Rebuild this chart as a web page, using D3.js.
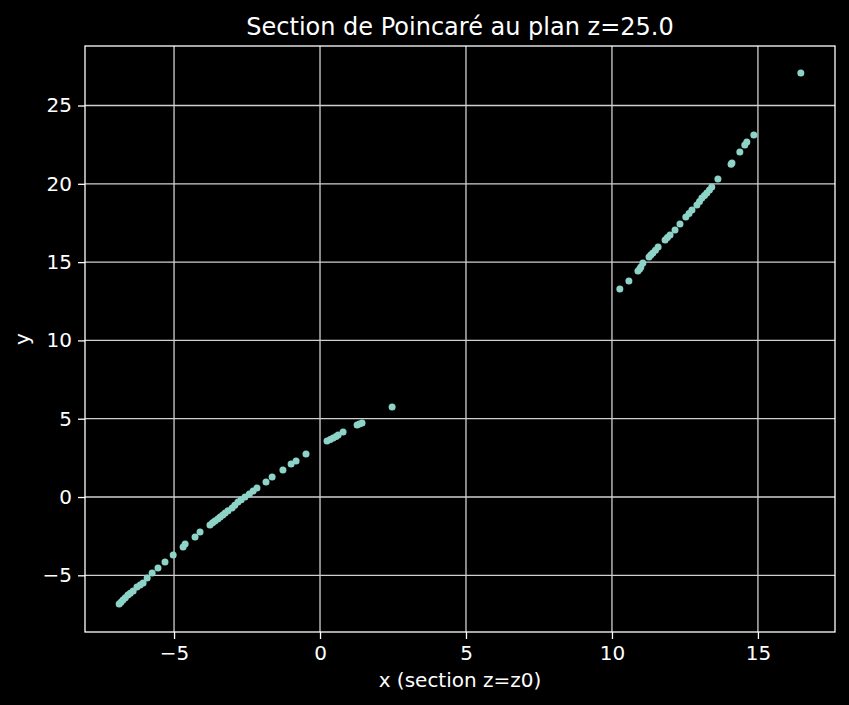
<!DOCTYPE html>
<html>
<head>
<meta charset="utf-8">
<script src="https://cdn.jsdelivr.net/npm/d3@7"></script>
<style>
  html, body { margin: 0; padding: 0; background: #000; }
  svg { display: block; }
  text { font-family: "DejaVu Sans", sans-serif; fill: #fff; }
</style>
</head>
<body>
<script>
// ---- data ----
const title = "Section de Poincaré au plan z=25.0";
const xLabel = "x (section z=z0)";
const yLabel = "y";

const xValues = [
  -6.88, -6.82, -6.75, -6.67, -6.58, -6.50, -6.40, -6.27, -6.16, -6.06, -5.92, -5.75,
  -5.55, -5.31, -5.03, -4.69, -4.62, -4.28, -4.11, -3.77, -3.68, -3.60, -3.50, -3.42,
  -3.33, -3.25, -3.15, -3.01, -2.92, -2.81, -2.70, -2.57, -2.42, -2.29, -2.16, -1.85,
  -1.64, -1.27, -0.99, -0.82, -0.48, 0.24, 0.35, 0.45, 0.55, 0.62, 0.79, 1.27, 1.35,
  1.44, 2.47,
  10.27, 10.58, 10.89, 10.95, 10.99, 11.06, 11.27, 11.33, 11.40, 11.49, 11.58, 11.82,
  11.90, 11.99, 12.16, 12.33, 12.53, 12.64, 12.74, 12.91, 13.00, 13.08, 13.17, 13.25,
  13.34, 13.42, 13.63, 14.08, 14.11, 14.38, 14.55, 14.62, 14.86, 16.47
];
const yValues = [
  -6.83, -6.72, -6.58, -6.43, -6.26, -6.14, -6.00, -5.75, -5.62, -5.49, -5.17, -4.85,
  -4.53, -4.15, -3.70, -3.19, -3.00, -2.55, -2.23, -1.79, -1.65, -1.53, -1.40, -1.28,
  -1.15, -1.02, -0.88, -0.70, -0.52, -0.32, -0.18, 0.00, 0.20, 0.38, 0.57, 0.96,
  1.28, 1.72, 2.11, 2.30, 2.75, 3.58, 3.68, 3.77, 3.87, 3.96, 4.15, 4.60, 4.67,
  4.73, 5.75,
  13.28, 13.79, 14.43, 14.56, 14.69, 14.94, 15.33, 15.45, 15.58, 15.76, 15.96, 16.41,
  16.57, 16.73, 17.05, 17.43, 17.88, 18.10, 18.33, 18.65, 18.87, 19.09, 19.25, 19.41,
  19.60, 19.80, 20.31, 21.25, 21.33, 22.03, 22.48, 22.67, 23.12, 27.08
];

const xTicks = [-5, 0, 5, 10, 15];
const yTicks = [-5, 0, 5, 10, 15, 20, 25];
const xDomain = [-8.05, 17.64];
const yDomain = [-8.62, 28.8];

// ---- layout ----
const W = 849, H = 705;
const m = { left: 85, right: 14, top: 46, bottom: 73 };
const iw = W - m.left - m.right, ih = H - m.top - m.bottom;

const svg = d3.select("body").append("svg").attr("width", W).attr("height", H);
svg.append("rect").attr("width", W).attr("height", H).attr("fill", "#000");

const x = d3.scaleLinear().domain(xDomain).range([0, iw]);
const y = d3.scaleLinear().domain(yDomain).range([ih, 0]);

const g = svg.append("g").attr("transform", `translate(${m.left},${m.top})`);

const fmt = d => (d < 0 ? "\u2212" + Math.abs(d) : String(d));

// grid
g.append("g").selectAll("line").data(xTicks).join("line")
  .attr("x1", d => x(d)).attr("x2", d => x(d)).attr("y1", 0).attr("y2", ih)
  .attr("stroke", "#d0d0d0").attr("stroke-width", 1.3);
g.append("g").selectAll("line").data(yTicks).join("line")
  .attr("y1", d => y(d)).attr("y2", d => y(d)).attr("x1", 0).attr("x2", iw)
  .attr("stroke", "#d0d0d0").attr("stroke-width", 1.3);

// axes
const xAxis = g.append("g").attr("transform", `translate(0,${ih})`)
  .call(d3.axisBottom(x).tickValues(xTicks).tickFormat(fmt).tickSize(7).tickPadding(7));
const yAxis = g.append("g")
  .call(d3.axisLeft(y).tickValues(yTicks).tickFormat(fmt).tickSize(7).tickPadding(6));
[xAxis, yAxis].forEach(a => {
  a.select(".domain").remove();
  a.selectAll(".tick line").attr("stroke", "#fff").attr("stroke-width", 1.3);
  a.selectAll(".tick text").attr("fill", "#fff").style("font-size", "20px")
    .style("font-family", "DejaVu Sans, sans-serif");
});

// frame
g.append("rect").attr("x", 0).attr("y", 0).attr("width", iw).attr("height", ih)
  .attr("fill", "none").attr("stroke", "#fff").attr("stroke-width", 1.3);

// points
const pts = xValues.map((v, i) => ({ x: v, y: yValues[i] }));
g.append("g").selectAll("circle").data(pts).join("circle")
  .attr("cx", d => x(d.x)).attr("cy", d => y(d.y)).attr("r", 3.5)
  .attr("fill", "#8dd3c7");

// title & labels
svg.append("text").attr("x", m.left + iw / 2).attr("y", 35)
  .attr("text-anchor", "middle").style("font-size", "24px").text(title);
svg.append("text").attr("x", m.left + iw / 2).attr("y", 687)
  .attr("text-anchor", "middle").style("font-size", "20px").text(xLabel);
svg.append("text").attr("transform", `translate(29,${m.top + ih / 2}) rotate(-90)`)
  .attr("text-anchor", "middle").style("font-size", "20px").text(yLabel);
</script>
</body>
</html>
